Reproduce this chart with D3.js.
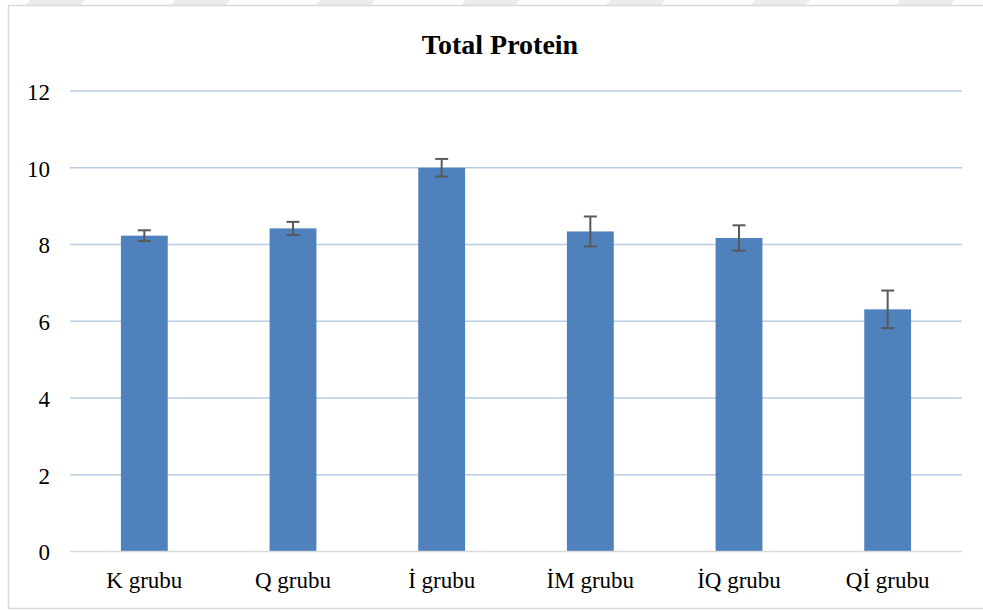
<!DOCTYPE html>
<html><head><meta charset="utf-8">
<script src="https://cdn.jsdelivr.net/npm/d3@7"></script>
<style>body{margin:0;background:#fff}svg{display:block}</style>
</head><body>
<script>
const categories = ["K grubu","Q grubu","İ grubu","İM grubu","İQ grubu","Qİ grubu"];
const values = [8.23, 8.42, 10.0, 8.34, 8.17, 6.31];
const errors = [0.14, 0.17, 0.23, 0.39, 0.33, 0.49];
const yTicks = [0,2,4,6,8,10,12];
const title = "Total Protein";

const W = 983, H = 610;
const FONT = "Liberation Serif, Tinos, Times New Roman, DejaVu Serif, Noto Serif, serif";
const svg = d3.select("body").append("svg").attr("width", W).attr("height", H);

// faint watermark stripes at top
const stripes = d3.range(-1, 8);
svg.selectAll("path.stripe").data(stripes).enter().append("path")
  .attr("d", i => { const x = 30 + i * 145; return `M${x},0 L${x+55},0 L${x+50},6 L${x-5},6 Z`; })
  .attr("fill", "#ececec");

svg.append("rect").attr("x", 8.5).attr("y", 5.5).attr("width", 990).attr("height", 603)
  .attr("fill", "#fff").attr("stroke", "#d9d9d9").attr("stroke-width", 1.5);

const x = d3.scaleBand().domain(categories).range([70, 962]).paddingInner(0.685).paddingOuter(0.3425);
const y = d3.scaleLinear().domain([0, 12]).range([551.5, 91]);

svg.append("text").attr("x", 500).attr("y", 54).attr("text-anchor", "middle")
  .attr("font-family", FONT).attr("font-weight", "bold")
  .attr("font-size", 28).attr("fill", "#000").text(title);

// gridlines
svg.selectAll("line.grid").data(yTicks.filter(d => d > 0)).enter().append("line")
  .attr("x1", 70).attr("x2", 962).attr("y1", d => y(d)).attr("y2", d => y(d))
  .attr("stroke", "#b9cde5").attr("stroke-width", 1.5);

// y axis labels
const yAxis = d3.axisLeft(y).tickValues(yTicks).tickSize(0).tickPadding(0);
const ya = svg.append("g").attr("transform", "translate(50,0)").call(yAxis);
ya.attr("font-family", FONT).attr("font-size", 23);
ya.select(".domain").remove();
ya.selectAll("text").attr("fill", "#000").attr("dy", "0.36em");

// bars
svg.selectAll("rect.bar").data(values).enter().append("rect")
  .attr("x", (d, i) => x(categories[i])).attr("width", x.bandwidth())
  .attr("y", d => y(d)).attr("height", d => y(0) - y(d))
  .attr("fill", "#4f81bd");

// x axis line
svg.append("line").attr("x1", 70).attr("x2", 962).attr("y1", y(0)).attr("y2", y(0))
  .attr("stroke", "#d9d9d9").attr("stroke-width", 1.5);

// error bars
const eg = svg.selectAll("g.err").data(values).enter().append("g")
  .attr("stroke", "#595959").attr("stroke-width", 2);
eg.append("line")
  .attr("x1", (d, i) => x(categories[i]) + x.bandwidth() / 2)
  .attr("x2", (d, i) => x(categories[i]) + x.bandwidth() / 2)
  .attr("y1", (d, i) => y(d + errors[i])).attr("y2", (d, i) => y(d - errors[i]));
eg.append("line")
  .attr("x1", (d, i) => x(categories[i]) + x.bandwidth() / 2 - 6.5)
  .attr("x2", (d, i) => x(categories[i]) + x.bandwidth() / 2 + 6.5)
  .attr("y1", (d, i) => y(d + errors[i])).attr("y2", (d, i) => y(d + errors[i]));
eg.append("line")
  .attr("x1", (d, i) => x(categories[i]) + x.bandwidth() / 2 - 6.5)
  .attr("x2", (d, i) => x(categories[i]) + x.bandwidth() / 2 + 6.5)
  .attr("y1", (d, i) => y(d - errors[i])).attr("y2", (d, i) => y(d - errors[i]));

// x axis labels
const xAxis = d3.axisBottom(x).tickSize(0).tickPadding(0);
const xa = svg.append("g").attr("transform", `translate(0,${588})`).call(xAxis);
xa.attr("font-family", FONT).attr("font-size", 23);
xa.select(".domain").remove();
xa.selectAll("text").attr("fill", "#000").attr("dy", 0);
</script>
</body></html>
